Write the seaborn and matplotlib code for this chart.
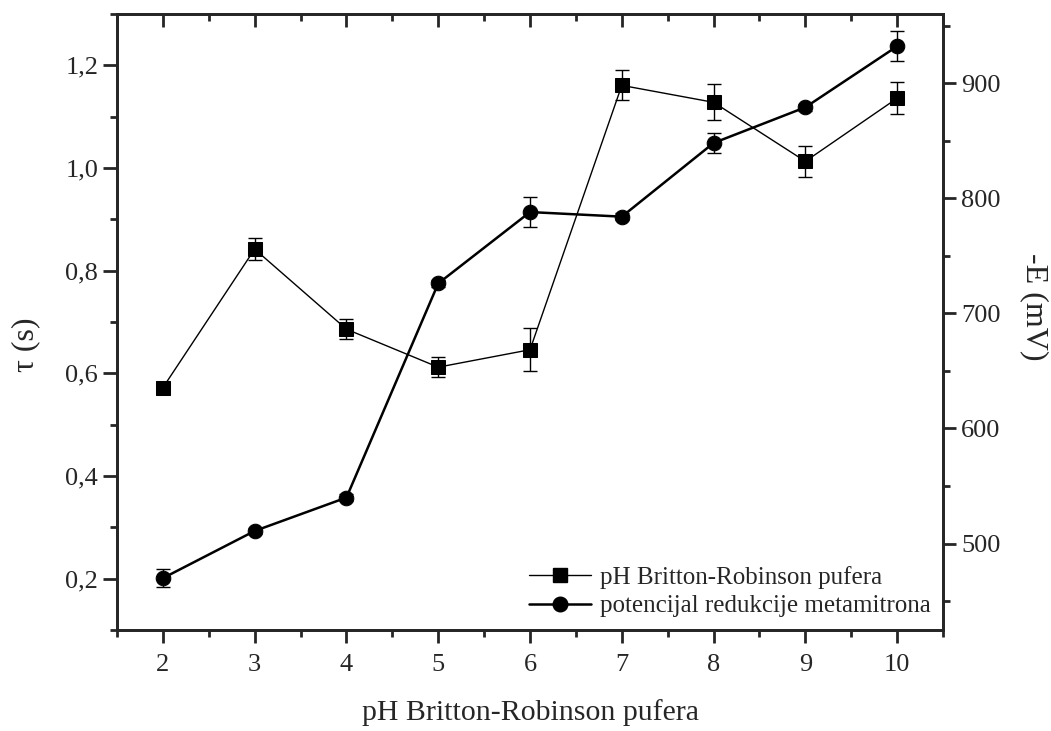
import numpy as np
import pandas as pd
import matplotlib
matplotlib.use("Agg")
import matplotlib.pyplot as plt
from matplotlib.ticker import MultipleLocator, FuncFormatter
from matplotlib.lines import Line2D
import seaborn as sns

# values
ph = [2, 3, 4, 5, 6, 7, 8, 9, 10]
tau = [0.572, 0.842, 0.686, 0.612, 0.646, 1.161, 1.128, 1.013, 1.136]
tau_err = [0.005, 0.022, 0.019, 0.020, 0.042, 0.029, 0.035, 0.030, 0.031]
potential = [470, 511, 540, 726, 788, 784, 848, 879, 932]
potential_err = [8, 3, 3, 3, 13, 3, 9, 3, 13]

LABEL_TAU = "pH Britton-Robinson pufera"
LABEL_E = "potencijal redukcije metamitrona"

df = pd.DataFrame({"ph": ph, "tau": tau, "tau_err": tau_err,
                   "E": potential, "E_err": potential_err})

sns.set_theme(style="ticks")
plt.rcParams["font.family"] = ["Liberation Serif", "DejaVu Serif"]
plt.rcParams["axes.linewidth"] = 2.0

fig = plt.figure(figsize=(10.51, 7.31), dpi=100)
ax = fig.add_axes([0.1113, 0.1382, 0.786, 0.8426])
ax2 = ax.twinx()

# tau series (left axis)
ax.errorbar(df["ph"], df["tau"], yerr=df["tau_err"], fmt="none",
            ecolor="black", elinewidth=1.0, capsize=5, capthick=1.0, zorder=2)
sns.lineplot(data=df, x="ph", y="tau", ax=ax, color="black", linewidth=1.0,
             marker="s", markersize=9.5, markeredgecolor="black",
             markerfacecolor="black", zorder=3)

# potential series (right axis)
ax2.errorbar(df["ph"], df["E"], yerr=df["E_err"], fmt="none",
             ecolor="black", elinewidth=1.0, capsize=5, capthick=1.0, zorder=2)
sns.lineplot(data=df, x="ph", y="E", ax=ax2, color="black", linewidth=1.8,
             marker="o", markersize=10.5, markeredgecolor="black",
             markerfacecolor="black", zorder=3)

ax.set_xlim(1.5, 10.5)
ax.set_ylim(0.1, 1.3)
ax2.set_ylim(425, 960)

comma = FuncFormatter(lambda v, p: f"{v:.1f}".replace(".", ","))
ax.xaxis.set_major_locator(MultipleLocator(1))
ax.xaxis.set_minor_locator(MultipleLocator(0.5))
ax.yaxis.set_major_locator(MultipleLocator(0.2))
ax.yaxis.set_minor_locator(MultipleLocator(0.1))
ax.yaxis.set_major_formatter(comma)
ax2.yaxis.set_major_locator(MultipleLocator(100))
ax2.yaxis.set_minor_locator(MultipleLocator(50))

ax.tick_params(axis="x", which="both", direction="out", top=True, labelsize=19,
               width=2, pad=8)
ax.tick_params(axis="x", which="major", length=9)
ax.tick_params(axis="x", which="minor", length=5)
ax.tick_params(axis="y", which="both", direction="out", labelsize=19, width=2)
ax.tick_params(axis="y", which="major", length=10)
ax.tick_params(axis="y", which="minor", length=5)
ax2.tick_params(axis="y", which="both", direction="out", labelsize=19, width=2)
ax2.tick_params(axis="y", which="major", length=9.5)
ax2.tick_params(axis="y", which="minor", length=5)

# top ticks point inward like the original
for t in ax.xaxis.get_major_ticks() + ax.xaxis.get_minor_ticks():
    t.tick2line.set_marker(3)

for a in (ax, ax2):
    for s in a.spines.values():
        s.set_linewidth(2.0)
        s.set_visible(True)

ax.set_xlabel("pH Britton-Robinson pufera", fontsize=21.5)
ax.xaxis.set_label_coords(0.5, -0.112)
ax.set_ylabel("τ (s)", fontsize=23, va="center")
ax.yaxis.set_label_coords(-0.110, 0.463)
ax2.set_ylabel("-E (mV)", fontsize=23, rotation=-90, va="center")
ax2.yaxis.set_label_coords(1.111, 0.524)

handles = [
    Line2D([], [], color="black", linewidth=1.0, marker="s", markersize=9.5),
    Line2D([], [], color="black", linewidth=1.8, marker="o", markersize=10.5),
]
ax2.legend(handles, [LABEL_TAU, LABEL_E], loc="lower right", frameon=False,
           fontsize=18, handlelength=2.5, handletextpad=0.35, labelspacing=0.25,
           borderaxespad=0.2, borderpad=0.3, bbox_to_anchor=(1.0, 0.0))

fig.savefig("out.png", dpi=100, facecolor="white")
